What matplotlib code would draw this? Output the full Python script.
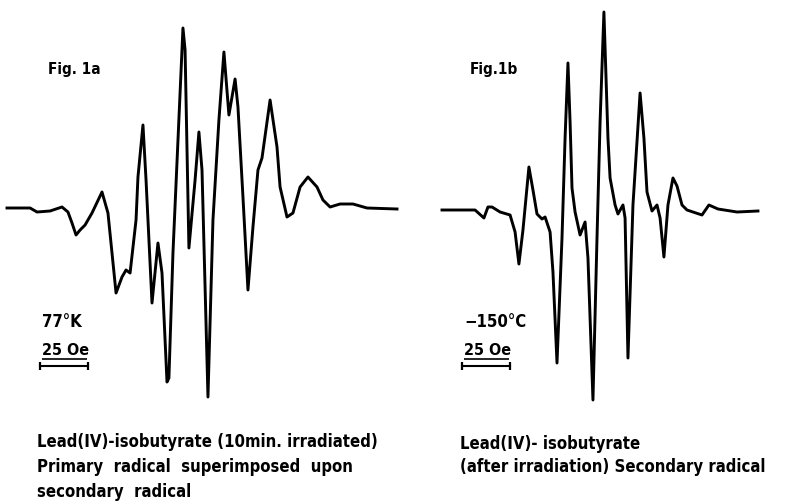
import matplotlib
matplotlib.use("Agg")
from matplotlib import pyplot as plt

# ESR traces: field in Oe (from left end of trace), signal in arb. units
field_a = [0, 12, 15.6, 22.4, 28.6, 31.7, 33.8, 35.9, 38, 40.6, 44.2, 49.4, 52.5, 54.6,
           56.7, 59.8, 61.9, 64, 67.1, 68.1, 70.7, 72.3, 75.4, 78.5, 80.6, 83.2, 84.2,
           86.3, 91.5, 92.6, 94.6, 97.8, 99.8, 101.4, 104.5, 107.1, 110.2, 112.8, 115.4,
           118.6, 120.1, 122.7, 125.3, 127.9, 130.5, 132.6, 136.8, 140.4, 142, 145.6,
           148.7, 152.4, 156.5, 161.2, 164.3, 168, 173.2, 179.9, 187.2, 202.8]
signal_a = [0, 0, -4, -3, 1, -4, -15, -27, -22, -17, -5, 16, -5, -45,
            -85, -69, -62, -65, -12, 31, 83, 28, -95, -35, -65, -174, -170,
            -45, 180, 158, -40, 28, 76, 38, -189, -12, 88, 156, 93,
            129, 101, 11, -82, -19, 38, 50, 108, 61, 21, -9,
            -5, 21, 31, 21, 8, 1, 4, 4, 0, -1]

field_b = [0, 17.2, 21.8, 23.9, 26, 30.2, 35.4, 38, 40, 42.1, 45.2, 47.3, 49.4, 52,
           53.6, 56.2, 57.7, 59.8, 62.4, 64, 65.5, 66.6, 67.6, 69.2, 71.8, 74.4, 75.9,
           78.5, 80.6, 82.2, 84.2, 86.3, 87.4, 90, 91.5, 94.1, 95.2, 96.7, 99.3, 103,
           105, 106.6, 109.2, 111.8, 113.4, 115.4, 117.5, 120.1, 122.2, 124.8, 127.4,
           130.5, 135.2, 138.8, 143.5, 153.4, 164.3]
signal_b = [0, 0, -8, 3, 3, -2, -5, -22, -54, -20, 43, 20, -4, -9,
            -7, -22, -62, -153, -28, 72, 147, 88, 22, -2, -25, -12, -48,
            -190, -28, 88, 198, 72, 32, 5, -4, 5, -8, -148, 5, 117,
            72, 18, -1, 5, -8, -47, 5, 32, 24, 5, 0,
            -2, -5, 5, 1, -2, -1]

# 25 Oe scale bars (start and end field)
bar_a = [17.2, 42.2]
bar_b = [10.4, 35.4]

captions_a = ["Lead(IV)-isobutyrate (10min. irradiated)",
              "Primary  radical  superimposed  upon",
              "secondary  radical"]
captions_b = ["Lead(IV)- isobutyrate",
              "(after irradiation) Secondary radical"]

W, H = 799, 501
fig = plt.figure(figsize=(W / 100, H / 100), dpi=100)
fnt = dict(family="DejaVu Sans", weight="bold", fontstretch="condensed", color="black")


def panel(left, right, x0, base, field, signal, bar, label, temp):
    ax = fig.add_axes([left / W, 0, (right - left) / W, 1])
    ax.set_xlim((left - x0) * 0.52, (right - x0) * 0.52)
    ax.set_ylim(base - H, base)
    ax.plot(field, signal, color="black", lw=2.1, solid_joinstyle="round")
    # scale bar with end ticks
    ax.plot(bar, [base - 366] * 2, color="black", lw=1.5, marker="|", ms=6, mew=1.6)
    ax.hlines(base - 359, bar[0] + 1, bar[1] - 0.5, color="black", lw=1.2)
    ax.text(bar[0] + 1, base - 355, "25 Oe", ha="left", va="baseline", fontsize=11.5, **fnt)
    ax.text(bar[0] + 1, base - 327, temp, ha="left", va="baseline", fontsize=12, **fnt)
    ax.text(bar[0] + 4, base - 74, label, ha="left", va="baseline", fontsize=11, **fnt)
    ax.axis("off")
    return ax


panel(0, 400, 7, 208, field_a, signal_a, bar_a, "Fig. 1a", "77°K")
panel(400, 799, 442, 210, field_b, signal_b, bar_b, "Fig.1b", "−150°C")

for i, s in enumerate(captions_a):
    fig.text(37 / W, 1 - (447 + 25 * i) / H, s, ha="left", va="baseline", fontsize=12, **fnt)
for i, s in enumerate(captions_b):
    fig.text(460 / W, 1 - (449 + 23 * i) / H, s, ha="left", va="baseline", fontsize=12, **fnt)

fig.savefig("out.png", dpi=100, facecolor="white")
